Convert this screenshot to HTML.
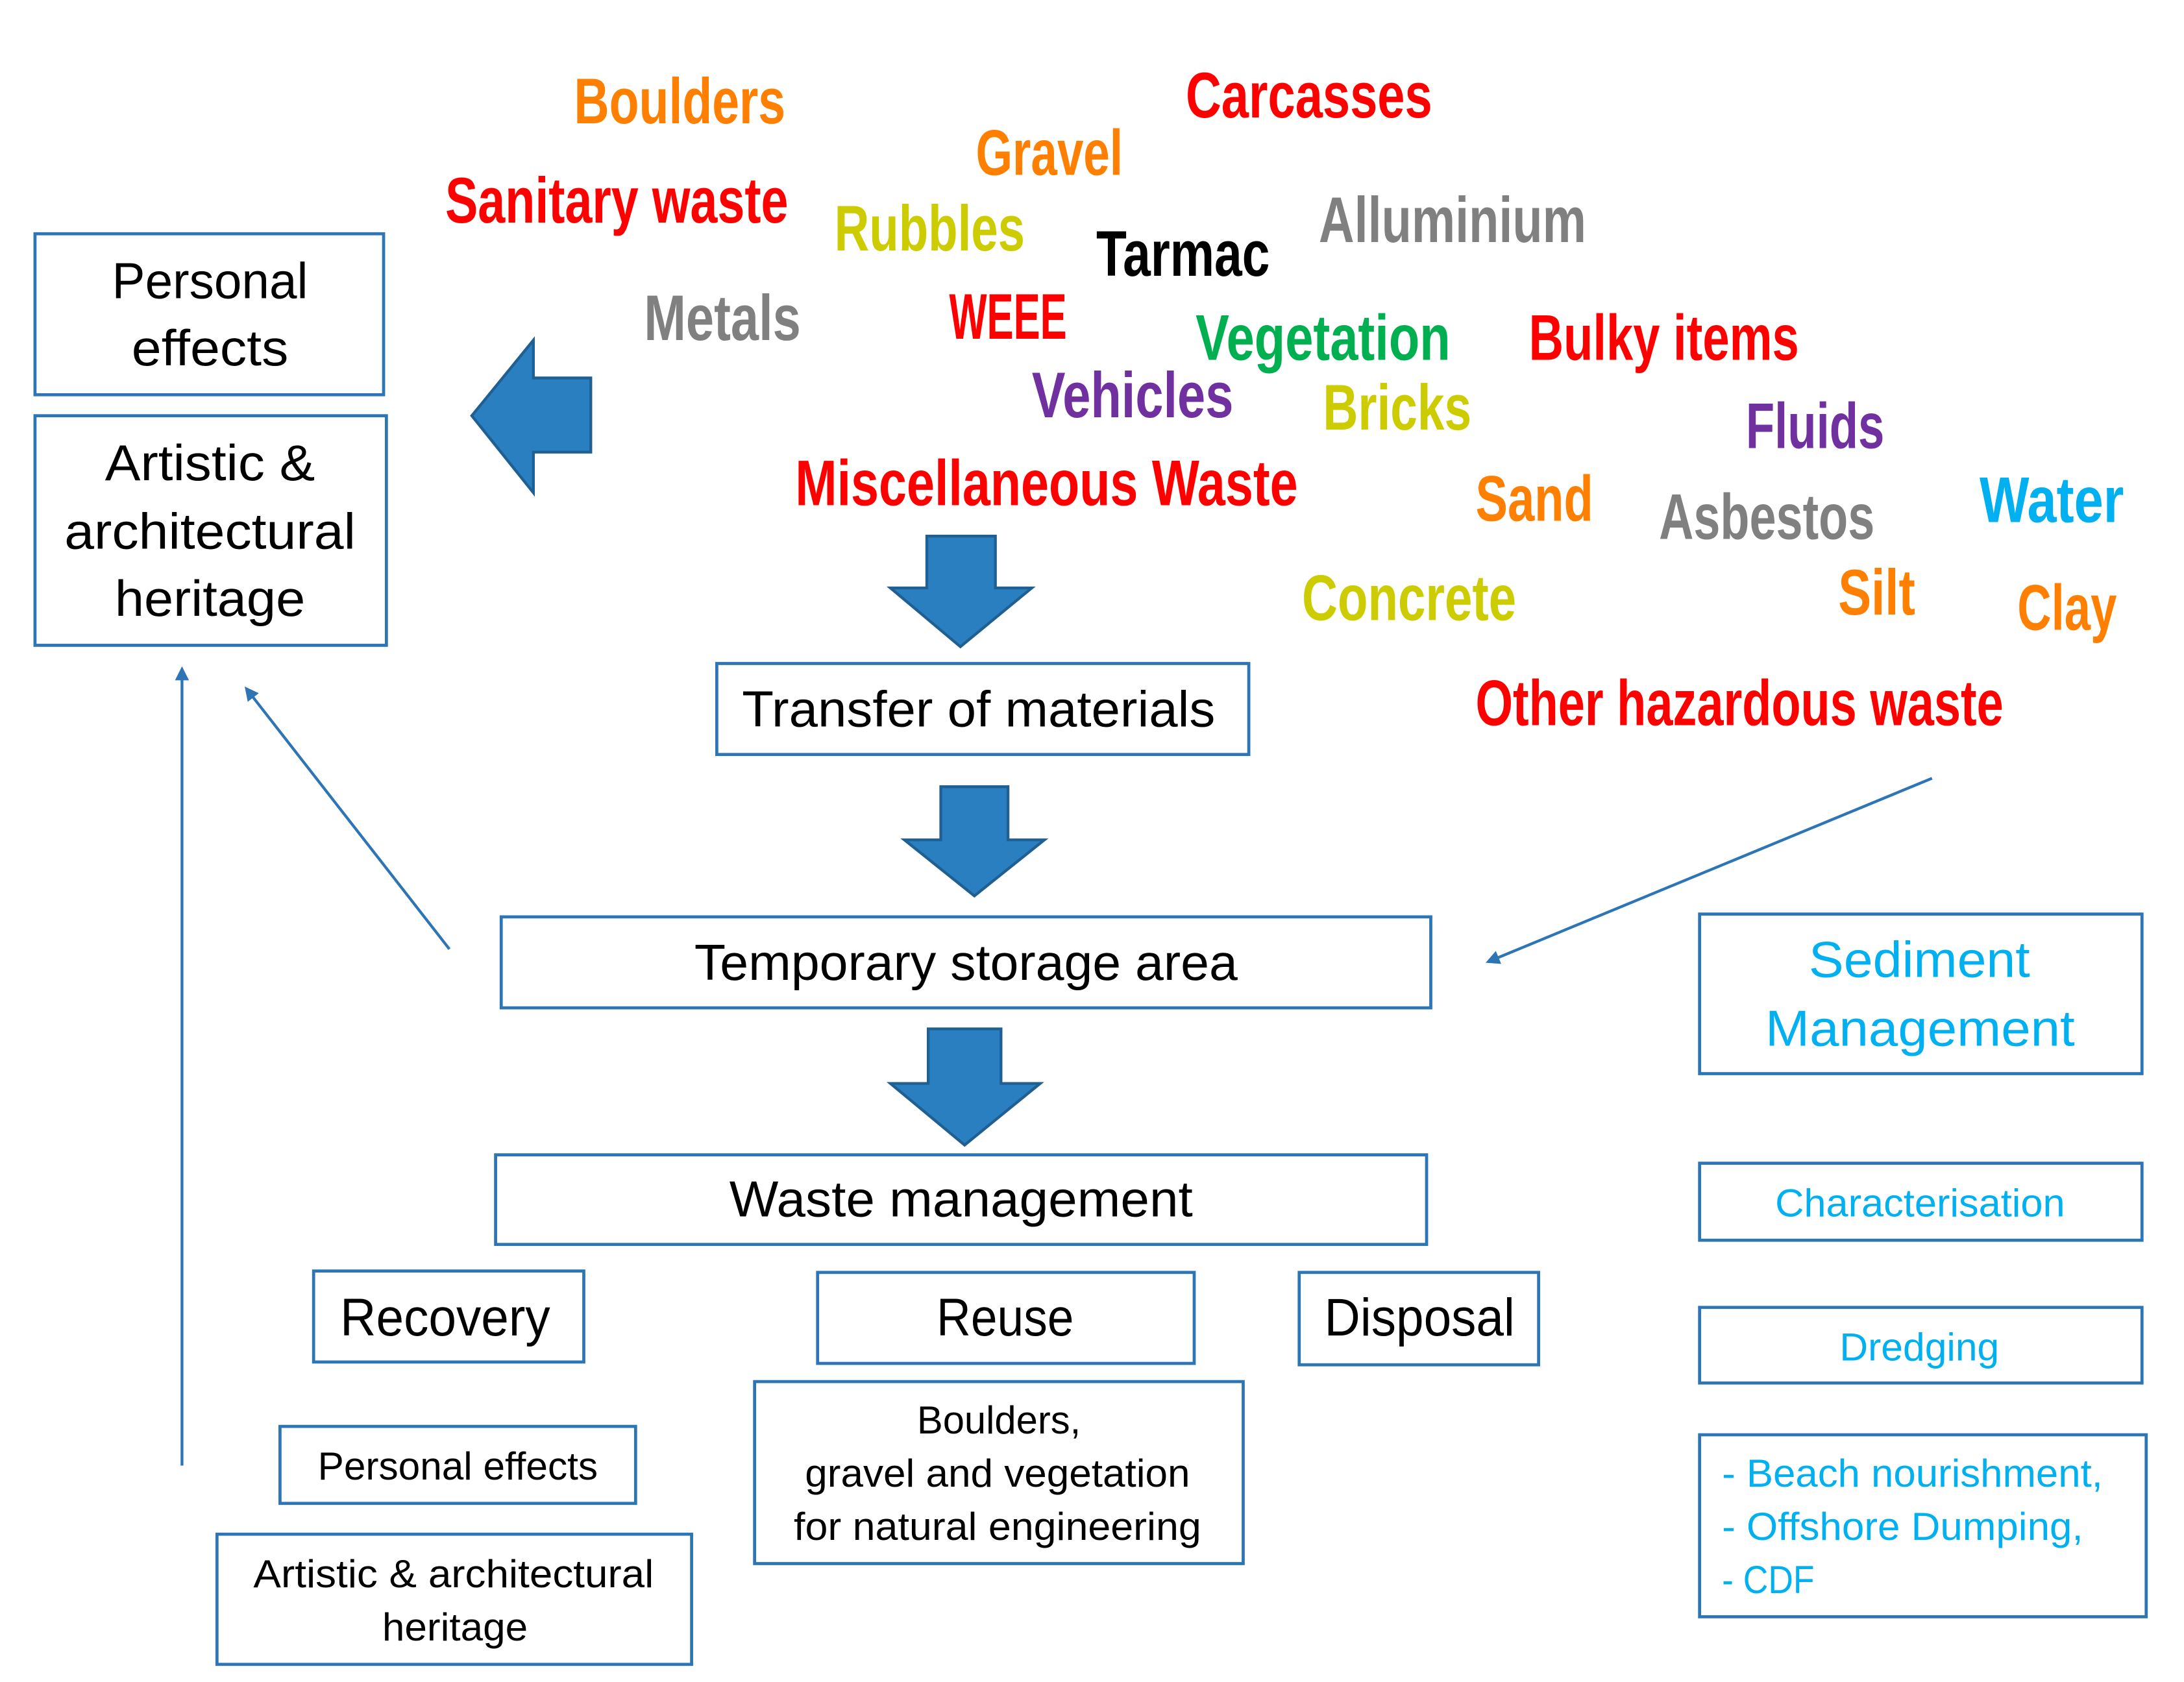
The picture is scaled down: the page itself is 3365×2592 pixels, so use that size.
<!DOCTYPE html>
<html><head><meta charset="utf-8"><style>
html,body{margin:0;padding:0;background:#fff;}
svg{display:block;}
.w{font-family:"Liberation Sans Narrow","Liberation Sans",sans-serif;font-weight:bold;font-size:46px;}
.b{font-family:"Liberation Sans",sans-serif;fill:#000;}
.c{font-family:"Liberation Sans",sans-serif;fill:#00B0F0;}
rect.bx{fill:#fff;stroke:#2E75B6;stroke-width:2.2;}
</style></head><body>
<svg width="3365" height="2592" viewBox="0 0 1560 1201.6" preserveAspectRatio="none" xmlns="http://www.w3.org/2000/svg">
<defs><marker id="ah" markerWidth="10" markerHeight="10" refX="8" refY="5" orient="auto" markerUnits="userSpaceOnUse"><path d="M0,0 L10,5 L0,10 Z" fill="#2E75B6"/></marker></defs>
<g class="w" lengthAdjust="spacingAndGlyphs">
<text x="410" y="88" fill="#FF7F00" textLength="151" lengthAdjust="spacingAndGlyphs">Boulders</text>
<text x="847" y="84" fill="#FF0000" textLength="176" lengthAdjust="spacingAndGlyphs">Carcasses</text>
<text x="697" y="125" fill="#FF7F00" textLength="105" lengthAdjust="spacingAndGlyphs">Gravel</text>
<text x="318" y="159" fill="#FF0000" textLength="245" lengthAdjust="spacingAndGlyphs">Sanitary waste</text>
<text x="596" y="179" fill="#CCCC00" textLength="136" lengthAdjust="spacingAndGlyphs">Rubbles</text>
<text x="783" y="197" fill="#000000" textLength="124" lengthAdjust="spacingAndGlyphs">Tarmac</text>
<text x="942" y="173" fill="#808080" textLength="191" lengthAdjust="spacingAndGlyphs">Alluminium</text>
<text x="460" y="243" fill="#808080" textLength="112" lengthAdjust="spacingAndGlyphs">Metals</text>
<text x="678" y="242" fill="#FF0000" textLength="84" lengthAdjust="spacingAndGlyphs">WEEE</text>
<text x="854" y="257" fill="#00B050" textLength="182" lengthAdjust="spacingAndGlyphs">Vegetation</text>
<text x="1092" y="257" fill="#FF0000" textLength="193" lengthAdjust="spacingAndGlyphs">Bulky items</text>
<text x="737" y="298" fill="#7030A0" textLength="144" lengthAdjust="spacingAndGlyphs">Vehicles</text>
<text x="945" y="307" fill="#CCCC00" textLength="106" lengthAdjust="spacingAndGlyphs">Bricks</text>
<text x="1247" y="320" fill="#7030A0" textLength="99" lengthAdjust="spacingAndGlyphs">Fluids</text>
<text x="568" y="361" fill="#FF0000" textLength="359" lengthAdjust="spacingAndGlyphs">Miscellaneous Waste</text>
<text x="1054" y="372" fill="#FF7F00" textLength="84" lengthAdjust="spacingAndGlyphs">Sand</text>
<text x="1185" y="385" fill="#808080" textLength="154" lengthAdjust="spacingAndGlyphs">Asbestos</text>
<text x="1414" y="373" fill="#00B0F0" textLength="103" lengthAdjust="spacingAndGlyphs">Water</text>
<text x="930" y="443" fill="#CCCC00" textLength="153" lengthAdjust="spacingAndGlyphs">Concrete</text>
<text x="1313" y="439" fill="#FF7F00" textLength="55" lengthAdjust="spacingAndGlyphs">Silt</text>
<text x="1441" y="450" fill="#FF7F00" textLength="71" lengthAdjust="spacingAndGlyphs">Clay</text>
<text x="1054" y="518" fill="#FF0000" textLength="377" lengthAdjust="spacingAndGlyphs">Other hazardous waste</text>
</g>
<!-- big arrows -->
<g fill="#2A7FC1" stroke="#1F5F91" stroke-width="2">
<path d="M337,297 L381,243 L381,270 L422,270 L422,323 L381,323 L381,352 Z"/>
<path d="M662,383 L711,383 L711,420 L737,420 L686,462 L636,420 L662,420 Z"/>
<path d="M672,562 L720,562 L720,600 L746,600 L696,640 L646,600 L672,600 Z"/>
<path d="M663,735 L715,735 L715,774 L743,774 L689,818 L636,774 L663,774 Z"/>
</g>
<!-- connectors -->
<g stroke="#2E75B6" stroke-width="2" fill="none">
<line x1="130" y1="1047" x2="130" y2="478" marker-end="url(#ah)"/>
<line x1="321" y1="678" x2="176" y2="492" marker-end="url(#ah)"/>
<line x1="1380" y1="556" x2="1063" y2="687" marker-end="url(#ah)"/>
</g>
<!-- boxes -->
<rect class="bx" x="25" y="167" width="249" height="115"/>
<rect class="bx" x="25" y="297" width="251" height="164"/>
<rect class="bx" x="512" y="474" width="380" height="65"/>
<rect class="bx" x="358" y="655" width="664" height="65"/>
<rect class="bx" x="354" y="825" width="665" height="64"/>
<rect class="bx" x="224" y="908" width="193" height="65"/>
<rect class="bx" x="584" y="909" width="269" height="65"/>
<rect class="bx" x="928" y="909" width="171" height="66"/>
<rect class="bx" x="200" y="1019" width="254" height="55"/>
<rect class="bx" x="155" y="1096" width="339" height="93"/>
<rect class="bx" x="539" y="987" width="349" height="130"/>
<rect class="bx" x="1214" y="653" width="316" height="114"/>
<rect class="bx" x="1214" y="831" width="316" height="55"/>
<rect class="bx" x="1214" y="934" width="316" height="54"/>
<rect class="bx" x="1214" y="1025" width="319" height="130"/>
<g class="b" font-size="36">
<text x="80" y="213" textLength="140" lengthAdjust="spacingAndGlyphs">Personal</text>
<text x="94" y="261" textLength="112" lengthAdjust="spacingAndGlyphs">effects</text>
<text x="75" y="343" textLength="150" lengthAdjust="spacingAndGlyphs">Artistic &amp;</text>
<text x="46" y="392" textLength="208" lengthAdjust="spacingAndGlyphs">architectural</text>
<text x="82" y="440" textLength="136" lengthAdjust="spacingAndGlyphs">heritage</text>
<text x="530" y="519" textLength="338" lengthAdjust="spacingAndGlyphs">Transfer of materials</text>
<text x="496" y="700" textLength="388" lengthAdjust="spacingAndGlyphs">Temporary storage area</text>
<text x="521" y="869" textLength="331" lengthAdjust="spacingAndGlyphs">Waste management</text>
<text x="243" y="954" font-size="38" textLength="150" lengthAdjust="spacingAndGlyphs">Recovery</text>
<text x="669" y="954" font-size="38" textLength="98" lengthAdjust="spacingAndGlyphs">Reuse</text>
<text x="946" y="954" font-size="38" textLength="136" lengthAdjust="spacingAndGlyphs">Disposal</text>
</g>
<g class="b" font-size="28">
<text x="227" y="1057" textLength="200" lengthAdjust="spacingAndGlyphs">Personal effects</text>
<text x="181" y="1134" textLength="286" lengthAdjust="spacingAndGlyphs">Artistic &amp; architectural</text>
<text x="273" y="1172" textLength="104" lengthAdjust="spacingAndGlyphs">heritage</text>
<text x="655" y="1024" textLength="117" lengthAdjust="spacingAndGlyphs">Boulders,</text>
<text x="575" y="1062" textLength="275" lengthAdjust="spacingAndGlyphs">gravel and vegetation</text>
<text x="567" y="1100" textLength="291" lengthAdjust="spacingAndGlyphs">for natural engineering</text>
</g>
<g class="c" font-size="36">
<text x="1292" y="698" textLength="158" lengthAdjust="spacingAndGlyphs">Sediment</text>
<text x="1261" y="747" textLength="221" lengthAdjust="spacingAndGlyphs">Management</text>
</g>
<g class="c" font-size="28">
<text x="1268" y="869" textLength="207" lengthAdjust="spacingAndGlyphs">Characterisation</text>
<text x="1314" y="972" textLength="114" lengthAdjust="spacingAndGlyphs">Dredging</text>
<text x="1230" y="1062" textLength="272" lengthAdjust="spacingAndGlyphs">- Beach nourishment,</text>
<text x="1230" y="1100" textLength="258" lengthAdjust="spacingAndGlyphs">- Offshore Dumping,</text>
<text x="1230" y="1138" textLength="66" lengthAdjust="spacingAndGlyphs">- CDF</text>
</g>
</svg>
</body></html>
